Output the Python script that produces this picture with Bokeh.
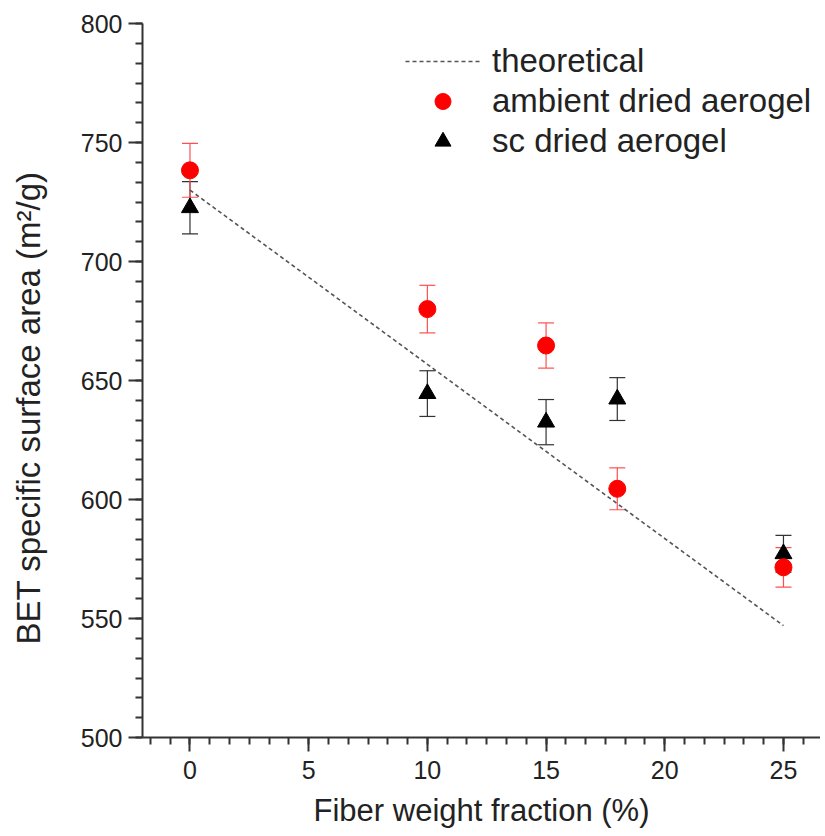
from bokeh.plotting import figure
from bokeh.models import (ColumnDataSource, Whisker, TeeHead, SingleIntervalTicker,
                          Legend, LegendItem, Range1d)
from bokeh.embed import file_html
from bokeh.resources import INLINE

# ---- data ----
fiber = [0, 10, 15, 18, 25]
ambient = [738.3, 680.0, 664.7, 604.5, 571.5]
ambient_err = [11.3, 10.0, 9.5, 8.8, 8.3]
sc = [722.6, 644.5, 632.5, 642.2, 577.2]
sc_err = [11.0, 9.6, 9.5, 9.0, 7.7]
theo_x = [0, 25]
theo_y = [730, 547]
x_title = "Fiber weight fraction (%)"
y_title = "BET specific surface area (m\u00b2/g)"

FONT = "Liberation Sans"
TXT = "#222222"

p = figure(width=820, height=832, output_backend="svg", toolbar_location=None,
           x_range=Range1d(-2, 26.56), y_range=Range1d(500, 800),
           min_border_left=142, min_border_right=0, min_border_top=23,
           min_border_bottom=95)
p.outline_line_color = None
p.xgrid.visible = False
p.ygrid.visible = False
p.background_fill_color = "white"
p.border_fill_color = "white"

amb_src = ColumnDataSource(dict(x=fiber, y=ambient,
                                lo=[v - e for v, e in zip(ambient, ambient_err)],
                                hi=[v + e for v, e in zip(ambient, ambient_err)]))
sc_src = ColumnDataSource(dict(x=fiber, y=sc,
                               lo=[v - e for v, e in zip(sc, sc_err)],
                               hi=[v + e for v, e in zip(sc, sc_err)]))

theo = p.line(theo_x, theo_y, line_color="#555555", line_width=1.6, line_dash="4 3")
sc_r = p.scatter("x", "y", source=sc_src, marker="triangle", size=17,
                 fill_color="black", line_color="black")
amb_r = p.scatter("x", "y", source=amb_src, marker="circle", size=17,
                  fill_color="#ff0000", line_color="#ff0000")

w_sc = Whisker(source=sc_src, base="x", upper="hi", lower="lo",
               line_color="#333333", line_width=1.2,
               upper_head=TeeHead(size=16, line_color="#333333", line_width=1.2),
               lower_head=TeeHead(size=16, line_color="#333333", line_width=1.2))
w_amb = Whisker(source=amb_src, base="x", upper="hi", lower="lo",
                line_color="#ff5050", line_width=1.2,
                upper_head=TeeHead(size=16, line_color="#ff5050", line_width=1.2),
                lower_head=TeeHead(size=16, line_color="#ff5050", line_width=1.2))
p.add_layout(w_sc)
p.add_layout(w_amb)

# axes
p.xaxis.ticker = SingleIntervalTicker(interval=5, num_minor_ticks=6)
p.yaxis.ticker = SingleIntervalTicker(interval=50, num_minor_ticks=6)
for ax in (p.xaxis[0], p.yaxis[0]):
    ax.axis_line_width = 2
    ax.axis_line_color = "#333333"
    ax.major_tick_line_width = 2
    ax.minor_tick_line_width = 2
    ax.major_tick_line_color = "#333333"
    ax.minor_tick_line_color = "#333333"
    ax.major_tick_in = 0
    ax.major_tick_out = 14
    ax.minor_tick_in = 0
    ax.minor_tick_out = 7
    ax.major_label_text_font = FONT
    ax.major_label_text_font_size = "25px"
    ax.major_label_text_color = TXT
    ax.axis_label_text_font = FONT
    ax.axis_label_text_font_style = "normal"
    ax.axis_label_text_color = TXT

p.xaxis.axis_label = x_title
p.xaxis.axis_label_text_font_size = "31px"
p.xaxis.major_label_standoff = 9
p.xaxis.axis_label_standoff = 11

# trailing no-break spaces shift the title slightly downward, as in the reference
p.yaxis.axis_label = y_title + "\u00a0" * 6
p.yaxis.axis_label_text_font_size = "33px"
p.yaxis.major_label_standoff = 6
p.yaxis.axis_label_standoff = 31

legend = Legend(items=[
    LegendItem(label="theoretical", renderers=[theo]),
    LegendItem(label="ambient dried aerogel", renderers=[amb_r]),
    LegendItem(label="sc dried aerogel", renderers=[sc_r]),
], location=(263, 576), orientation="vertical")
legend.border_line_color = None
legend.background_fill_alpha = 0
legend.padding = 0
legend.margin = 0
legend.spacing = 0
legend.glyph_width = 75
legend.glyph_height = 40
legend.label_height = 40
legend.label_standoff = 12
legend.label_text_font = FONT
legend.label_text_font_size = "33px"
legend.label_text_color = TXT
p.add_layout(legend)

open("out.html", "w").write(file_html(p, INLINE))
